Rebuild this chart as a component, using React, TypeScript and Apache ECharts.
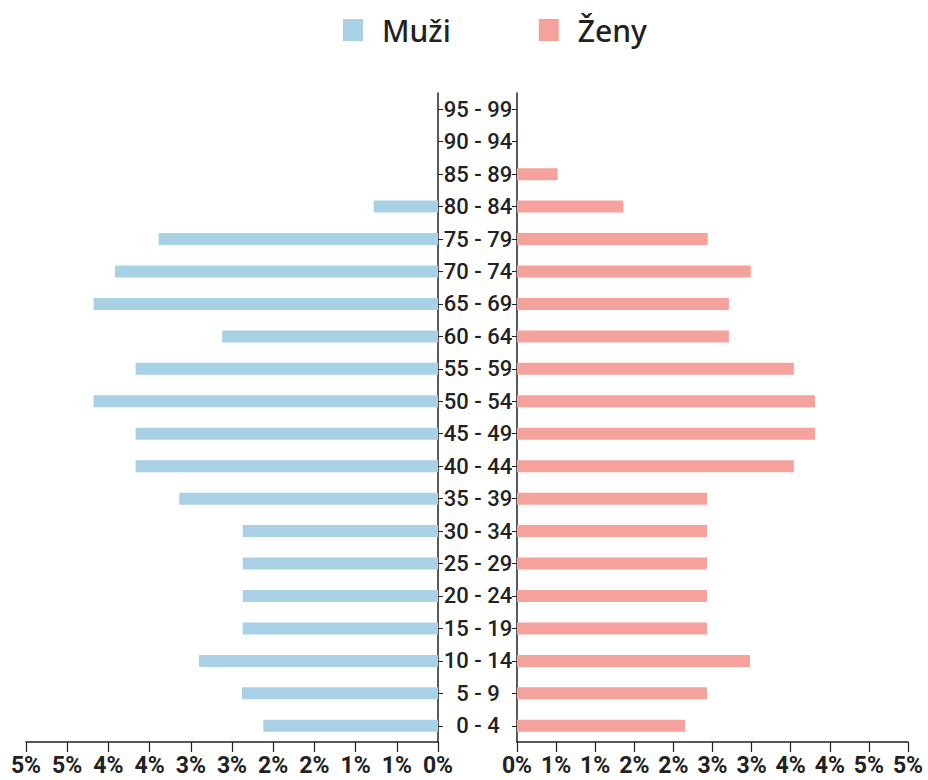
import React, { useEffect, useRef } from "react";
import * as echarts from "echarts";

const ageGroups = [
  "0 - 4", "5 - 9", "10 - 14", "15 - 19", "20 - 24", "25 - 29", "30 - 34",
  "35 - 39", "40 - 44", "45 - 49", "50 - 54", "55 - 59", "60 - 64", "65 - 69",
  "70 - 74", "75 - 79", "80 - 84", "85 - 89", "90 - 94", "95 - 99",
];

const maleValues = [
  2.12, 2.38, 2.9, 2.37, 2.37, 2.37, 2.37, 3.14, 3.67, 3.67, 4.18, 3.67,
  2.62, 4.18, 3.92, 3.39, 0.78, 0, 0, 0,
];

const femaleValues = [
  2.15, 2.43, 2.98, 2.43, 2.43, 2.43, 2.43, 2.43, 3.54, 3.81, 3.81, 3.54,
  2.71, 2.71, 2.99, 2.44, 1.36, 0.52, 0, 0,
];

const tickLabels = ["0%", "1%", "1%", "2%", "2%", "3%", "3%", "4%", "4%", "5%", "5%"];

const seriesNames = ["Muži", "Ženy"];
const colors = ["#a8d1e6", "#f5a29d"];

const AXIS_COLOR = "#222";
const FONT = "Roboto";

export default function App() {
  const ref = useRef<HTMLDivElement>(null);
  useEffect(() => {
    document.body.style.margin = "0";
    if (!ref.current) return;
    const chart = echarts.init(ref.current, undefined, { renderer: "svg" });
    const xAxisCommon = {
      type: "value" as const,
      min: 0,
      max: 5,
      interval: 0.5,
      splitLine: { show: false },
      axisLine: { show: true, lineStyle: { color: AXIS_COLOR, width: 1.5 } },
      axisTick: { show: true, length: 10, lineStyle: { color: AXIS_COLOR, width: 1.2 } },
      axisLabel: {
        margin: 12,
        fontSize: 23,
        fontWeight: "bold" as const,
        fontFamily: FONT,
        color: AXIS_COLOR,
        formatter: (_v: number, i: number) => tickLabels[i],
      },
    };
    const yAxisCommon = {
      type: "category" as const,
      data: ageGroups,
      axisLine: { show: true, lineStyle: { color: AXIS_COLOR, width: 1.5 } },
      axisTick: { show: true, alignWithLabel: true, length: 5, lineStyle: { color: AXIS_COLOR } },
    };
    chart.setOption({
      animation: false,
      backgroundColor: "#fff",
      color: colors,
      legend: {
        data: seriesNames,
        top: 15,
        left: 343,
        padding: 0,
        itemWidth: 20,
        itemHeight: 22,
        itemGap: 88,
        icon: "rect",
        textStyle: {
          fontSize: 30,
          fontFamily: "Noto Sans",
          fontWeight: 500,
          color: "#222",
          padding: [0, 0, 0, 14],
        },
      },
      grid: [
        { left: 26, right: 490, top: 93, bottom: 38, containLabel: false },
        { left: 517, right: 20, top: 93, bottom: 38, containLabel: false },
      ],
      xAxis: [
        { ...xAxisCommon, gridIndex: 0, inverse: true },
        { ...xAxisCommon, gridIndex: 1 },
      ],
      yAxis: [
        {
          ...yAxisCommon,
          gridIndex: 0,
          position: "right",
          axisLabel: {
            show: true,
            margin: 40,
            align: "center",
            fontSize: 22,
            fontWeight: 500,
            fontFamily: FONT,
            color: "#222",
          },
        },
        {
          ...yAxisCommon,
          gridIndex: 1,
          position: "left",
          axisLabel: { show: false },
        },
      ],
      series: [
        {
          name: seriesNames[0],
          type: "bar",
          xAxisIndex: 0,
          yAxisIndex: 0,
          data: maleValues,
          barWidth: 12,
          itemStyle: { color: colors[0] },
        },
        {
          name: seriesNames[1],
          type: "bar",
          xAxisIndex: 1,
          yAxisIndex: 1,
          data: femaleValues,
          barWidth: 12,
          itemStyle: { color: colors[1] },
        },
      ],
    });
    return () => chart.dispose();
  }, []);
  return <div ref={ref} style={{ width: 928, height: 780 }} />;
}
